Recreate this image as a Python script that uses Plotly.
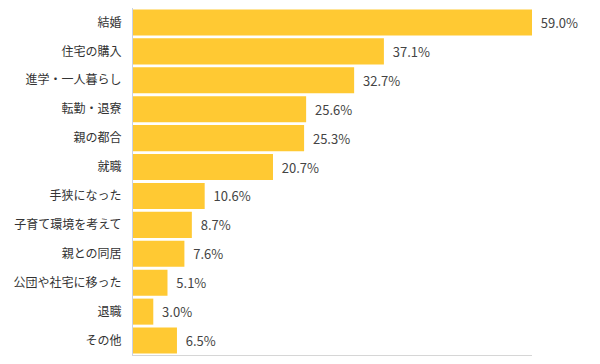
import plotly.graph_objects as go

categories = ["結婚", "住宅の購入", "進学・一人暮らし", "転勤・退寮", "親の都合", "就職",
              "手狭になった", "子育て環境を考えて", "親との同居", "公団や社宅に移った", "退職", "その他"]
values = [59.0, 37.1, 32.7, 25.6, 25.3, 20.7, 10.6, 8.7, 7.6, 5.1, 3.0, 6.5]
labels = [f"\u00a0\u00a0{v:.1f}%" for v in values]

FONT = "Noto Sans CJK JP"

fig = go.Figure(go.Bar(
    x=values, y=categories, orientation="h",
    marker=dict(color="#FFC933", line=dict(width=0)),
    text=labels, textposition="outside", cliponaxis=False, constraintext="none",
    textfont=dict(family=FONT, size=13, color="#444444"),
    width=0.9, hoverinfo="skip",
))

fig.update_layout(
    width=600, height=364,
    margin=dict(l=133, r=68, t=8, b=9),
    plot_bgcolor="white", paper_bgcolor="white",
    showlegend=False,
    font=dict(family=FONT, size=12, color="#333333"),
    xaxis=dict(range=[0, 59], showgrid=False, zeroline=False, showticklabels=False,
               showline=True, linecolor="#D6D6D6", linewidth=1, fixedrange=True),
    yaxis=dict(autorange="reversed", showgrid=False, zeroline=False,
               showline=True, linecolor="#C9D1E3", linewidth=1,
               ticks="", ticklabelstandoff=8, fixedrange=True,
               tickfont=dict(family=FONT, size=12, color="#333333")),
)

fig.write_html("out.html", config={"displayModeBar": False},
               post_script="document.body.style.margin='0';")
